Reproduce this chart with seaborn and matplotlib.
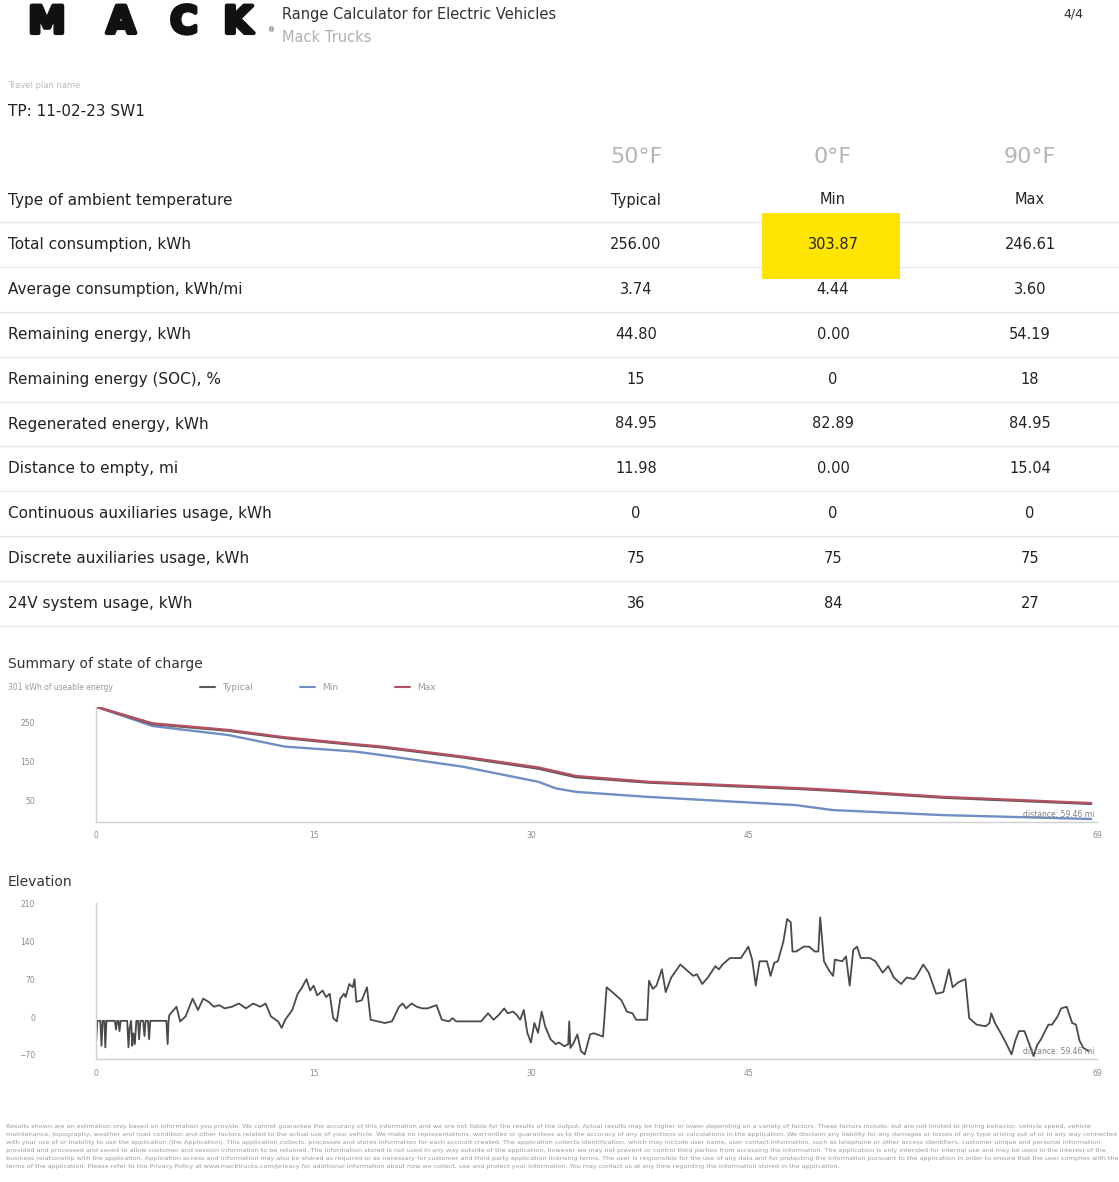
import textwrap
import numpy as np
import pandas as pd
import matplotlib
matplotlib.use("Agg")
import matplotlib.pyplot as plt
import matplotlib.patheffects as pe
from matplotlib.lines import Line2D
from matplotlib.patches import Rectangle
import seaborn as sns

# ---------------- data ----------------
temps = ["50°F", "0°F", "90°F"]
scenarios = ["Typical", "Min", "Max"]
row_labels = [
    "Type of ambient temperature",
    "Total consumption, kWh",
    "Average consumption, kWh/mi",
    "Remaining energy, kWh",
    "Remaining energy (SOC), %",
    "Regenerated energy, kWh",
    "Distance to empty, mi",
    "Continuous auxiliaries usage, kWh",
    "Discrete auxiliaries usage, kWh",
    "24V system usage, kWh",
]
typical_vals = ["256.00", "3.74", "44.80", "15", "84.95", "11.98", "0", "75", "36"]
min_vals = ["303.87", "4.44", "0.00", "0", "82.89", "0.00", "0", "75", "84"]
max_vals = ["246.61", "3.60", "54.19", "18", "84.95", "15.04", "0", "75", "27"]

# state of charge (kWh) vs distance
soc_dist = [0, 3.9, 9.1, 13.0, 17.9, 19.7, 25.3, 30.5, 33.1, 38.1, 48.2, 50.8, 58.4, 68.6]
soc_typical = [291, 246, 229, 210, 192, 186, 160, 131, 109, 95, 79, 74, 56, 40]
soc_max = [291, 248, 231, 212, 194, 188, 162, 134, 112, 97, 81, 76, 58, 42]
min_dist = [0, 3.9, 9.1, 13.0, 17.9, 19.7, 25.3, 30.5, 31.7, 33.1, 38.1, 48.2, 50.8, 58.4, 68.6]
soc_min = [291, 241, 218, 188, 175, 166, 136, 97, 80, 71, 58, 37, 24, 11, 1]

soc_yticks = [50, 150, 250]
x_ticks = [0, 15, 30, 45, 69]
distance_label = "distance: 59.46 mi"
usable_label = "301 kWh of useable energy"

# elevation profile
elev_dist = [
    0.00, 0.10, 0.30, 0.38, 0.46, 0.58, 0.64, 0.72, 1.30, 1.38, 1.46, 1.55, 1.62, 1.70,
    2.15, 2.24, 2.32, 2.42, 2.50, 2.58, 2.68, 2.78, 2.90, 2.97, 3.06, 3.25, 3.34, 3.42,
    3.58, 3.66, 3.74, 4.85, 4.94, 5.00, 5.06, 5.55, 5.80, 6.17, 6.66, 7.03, 7.39, 7.76,
    8.13, 8.50, 8.87, 9.36, 9.85, 10.34, 10.83, 11.32, 11.69, 12.06, 12.55, 12.80, 13.04,
    13.53, 13.90, 14.14, 14.51, 14.76, 15.00, 15.25, 15.62, 15.86, 16.11, 16.35, 16.60,
    16.84, 17.09, 17.21, 17.46, 17.70, 17.82, 17.95, 18.32, 18.68, 18.93, 19.42, 19.91,
    20.40, 20.89, 21.14, 21.38, 21.75, 22.12, 22.49, 22.86, 23.47, 23.84, 24.33, 24.58,
    24.82, 26.54, 27.03, 27.40, 27.77, 28.14, 28.38, 28.75, 29.00, 29.24, 29.49, 29.73,
    29.98, 30.22, 30.47, 30.72, 30.96, 31.33, 31.69, 31.91, 32.29, 32.55, 32.62, 32.70,
    32.92, 33.18, 33.43, 33.69, 34.06, 34.32, 34.95, 35.20, 35.59, 36.22, 36.59, 36.98,
    37.23, 37.99, 38.12, 38.38, 38.63, 39.01, 39.27, 39.65, 40.28, 40.66, 41.17, 41.42,
    41.79, 42.18, 42.69, 42.94, 43.19, 43.70, 44.46, 44.97, 45.23, 45.48, 45.74, 46.25,
    46.50, 46.75, 47.00, 47.38, 47.64, 47.89, 48.01, 48.27, 48.78, 49.16, 49.54, 49.79,
    49.92, 50.18, 50.55, 50.81, 50.93, 51.44, 51.70, 51.95, 52.20, 52.46, 52.71, 53.34,
    53.72, 54.23, 54.61, 54.99, 55.50, 55.88, 56.39, 56.64, 57.02, 57.40, 57.91, 58.41,
    58.79, 59.05, 59.43, 59.93, 60.19, 60.70, 61.33, 61.59, 61.71, 61.97, 62.35, 62.73,
    63.11, 63.36, 63.62, 64.00, 64.25, 64.63, 64.89, 65.14, 65.65, 65.90, 66.28, 66.53,
    66.91, 67.29, 67.55, 67.80, 68.06, 68.44,
]
elev_ft = [
    -48, -7, -7, -53, -7, -7, -56, -7, -7, -23, -7, -7, -26, -7,
    -7, -56, -20, -7, -53, -30, -50, -7, -7, -41, -7, -7, -35, -7,
    -7, -41, -7, -7, -50, -7, 4, 19, -8, 1, 34, 13, 34, 28,
    19, 22, 16, 19, 25, 16, 25, 19, 25, 1, -8, -20, -5,
    13, 43, 52, 70, 49, 58, 40, 49, 37, 43, -2, -8,
    34, 43, 37, 61, 55, 70, 28, 31, 55, -5, -8, -11,
    -8, 19, 25, 16, 25, 19, 16, 16, 22, -5, -8, -2,
    -8, -8, 7, -5, 4, 16, 7, 10, 4, -5, 13, -29,
    -47, -11, -29, 10, -17, -41, -50, -47, -54, -50, -8, -57,
    -48, -32, -63, -69, -32, -30, -36, 55, 46, 31, 10, 7,
    -5, -5, 67, 52, 58, 88, 46, 73, 97, 88, 76, 79,
    61, 73, 94, 88, 97, 109, 109, 130, 106, 58, 103, 103,
    76, 100, 103, 139, 181, 175, 121, 121, 130, 130, 121, 121,
    184, 103, 85, 76, 106, 103, 112, 58, 124, 130, 109, 109,
    103, 82, 94, 73, 61, 73, 70, 79, 97, 82, 43, 46,
    88, 55, 64, 70, -2, -14, -17, -11, 7, -11, -29, -48,
    -69, -44, -26, -26, -44, -72, -51, -41, -14, -14, 1, 16,
    19, -11, -14, -44, -57, -63,
]
elev_yticks = [-70, 0, 70, 140, 210]

disclaimer = (
    "Results shown are an estimation only based on information you provide. We cannot guarantee the accuracy of this information and we are not liable for the results of the output. "
    "Actual results may be higher or lower depending on a variety of factors. These factors include, but are not limited to driving behavior, vehicle speed, vehicle maintenance, "
    "topography, weather and road condition and other factors related to the actual use of your vehicle. We make no representations, warranties or guarantees as to the accuracy "
    "of any projections or calculations in the application. We disclaim any liability for any damages or losses of any type arising out of or in any way connected with your use of "
    "or inability to use the application (the Application). This application collects, processes and stores information for each account created. The application collects "
    "identification, which may include user name, user contact information, such as telephone or other access identifiers, customer unique and personal information provided and "
    "processed and saved to allow customer and session information to be retained. The information stored is not used in any way outside of the application, however we may not "
    "prevent or control third parties from accessing the information. The application is only intended for internal use and may be used in the interest of the business relationship "
    "with the application. Application access and information may also be shared as required or as necessary for customer and third party application licensing terms. The user is "
    "responsible for the use of any data and for protecting the information pursuant to the application in order to ensure that the user complies with the terms of the application. "
    "Please refer to the Privacy Policy at www.macktrucks.com/privacy for additional information about how we collect, use and protect your information. "
    "You may contact us at any time regarding the information stored in the application."
)

# ---------------- figure ----------------
sns.set_theme(style="white")
plt.rcParams["font.family"] = ["DejaVu Sans"]

W, H = 1119, 1182
fig = plt.figure(figsize=(W / 100, H / 100), dpi=100)


def fx(x):
    return x / W


def fy(y):
    return 1 - y / H


# logo
for letter, cx in zip("MACK", [47, 121, 184, 238]):
    fig.text(fx(cx), fy(23), letter, ha="center", va="center", fontsize=27,
             fontweight="heavy", color="#111111",
             path_effects=[pe.withStroke(linewidth=3, foreground="#111111")])
fig.text(fx(268), fy(30), "®", ha="left", va="center", fontsize=5, color="#333333")

fig.text(fx(282), fy(14), "Range Calculator for Electric Vehicles", ha="left", va="center",
         fontsize=10.5, color="#333333")
fig.text(fx(282), fy(37), "Mack Trucks", ha="left", va="center", fontsize=10.5, color="#b0b0b0")
fig.text(fx(1083), fy(14), "4/4", ha="right", va="center", fontsize=9, color="#333333")

fig.text(fx(8), fy(86), "Travel plan name", ha="left", va="center", fontsize=6, color="#bbbbbb")
fig.text(fx(8), fy(111), "TP: 11-02-23 SW1", ha="left", va="center", fontsize=11, color="#222222")

# table
col_x = [636, 833, 1030]
for t, cx in zip(temps, col_x):
    fig.text(fx(cx), fy(157), t, ha="center", va="center", fontsize=16, color="#b5b5b5")

# highlight behind the Min total consumption
fig.add_artist(Rectangle((fx(762), fy(279)), fx(900) - fx(762), (279 - 213) / H,
                         transform=fig.transFigure, facecolor="#ffe500", edgecolor="none", zorder=2))

row_y = [200 + 44.8 * i for i in range(len(row_labels))]
columns = [[scenarios[0]] + typical_vals, [scenarios[1]] + min_vals, [scenarios[2]] + max_vals]
for i, (lab, ry) in enumerate(zip(row_labels, row_y)):
    fig.text(fx(8), fy(ry), lab, ha="left", va="center", fontsize=11, color="#222222", zorder=4)
    for col, cx in zip(columns, col_x):
        fig.text(fx(cx), fy(ry), col[i], ha="center", va="center", fontsize=10.5,
                 color="#222222", zorder=4)
    sep = ry + 22.4
    fig.add_artist(Line2D([0, 1], [fy(sep), fy(sep)], transform=fig.transFigure,
                          color="#e6e6e6", lw=1.0, zorder=1))

# ---------------- state of charge chart ----------------
fig.text(fx(8), fy(664), "Summary of state of charge", ha="left", va="center", fontsize=10, color="#333333")
fig.text(fx(8), fy(687), usable_label, ha="left", va="center", fontsize=5.5, color="#9a9a9a")

palette = {"Typical": "#5a5a5a", "Min": "#6f8fc4", "Max": "#b4505f"}
for name, lx in zip(scenarios, [200, 300, 395]):
    fig.add_artist(Line2D([fx(lx), fx(lx + 15)], [fy(687), fy(687)], transform=fig.transFigure,
                          color=palette[name], lw=1.5))
    fig.text(fx(lx + 22), fy(687), name, ha="left", va="center", fontsize=6.5, color="#9a9a9a")

soc_df = pd.concat([
    pd.DataFrame({"dist": soc_dist, "kwh": soc_typical, "scenario": "Typical"}),
    pd.DataFrame({"dist": soc_dist, "kwh": soc_max, "scenario": "Max"}),
    pd.DataFrame({"dist": min_dist, "kwh": soc_min, "scenario": "Min"}),
], ignore_index=True)

ax1 = fig.add_axes([fx(96), fy(821.7), fx(1097) - fx(96), (821.7 - 706.7) / H])
sns.lineplot(data=soc_df, x="dist", y="kwh", hue="scenario", hue_order=["Min", "Typical", "Max"],
             palette=palette, estimator=None, sort=False, linewidth=1.7, legend=False, ax=ax1)
ax1.set_xlim(0, 69)
ax1.set_ylim(-6, 291)
ax1.set_yticks(soc_yticks)
ax1.set_xticks(x_ticks)
ax1.text(0.997, 0.06, distance_label, transform=ax1.transAxes, ha="right", va="center",
         fontsize=5.5, color="#808080")

# ---------------- elevation chart ----------------
fig.text(fx(8), fy(882), "Elevation", ha="left", va="center", fontsize=10, color="#333333")
elev_df = pd.DataFrame({"dist": elev_dist, "elev": elev_ft})
ax2 = fig.add_axes([fx(96), fy(1059.3), fx(1097) - fx(96), (1059.3 - 903.3) / H])
sns.lineplot(data=elev_df, x="dist", y="elev", estimator=None, sort=False, color="#4a4a4a",
             linewidth=1.3, ax=ax2)
ax2.set_xlim(0, 69)
ax2.set_ylim(-78, 210)
ax2.set_yticks(elev_yticks)
ax2.set_xticks(x_ticks)
ax2.text(0.997, 0.05, distance_label, transform=ax2.transAxes, ha="right", va="center",
         fontsize=5.5, color="#808080")

for ax in (ax1, ax2):
    ax.set_xlabel("")
    ax.set_ylabel("")
    for s in ("top", "right"):
        ax.spines[s].set_visible(False)
    for s in ("left", "bottom"):
        ax.spines[s].set_color("#cfcfcf")
        ax.spines[s].set_linewidth(1.0)
    ax.tick_params(axis="y", length=0, pad=44, labelsize=5.5, labelcolor="#8a8a8a")
    ax.tick_params(axis="x", length=0, pad=7, labelsize=5.5, labelcolor="#8a8a8a")
    ax.set_facecolor("none")
    ax.grid(False)

# ---------------- disclaimer ----------------
lines = textwrap.wrap(disclaimer, 345)
fig.text(fx(6), fy(1124), "\n".join(lines), ha="left", va="top", fontsize=4.6,
         linespacing=1.75, color="#9a9a9a")

fig.savefig("out.png", dpi=100, facecolor="white")
